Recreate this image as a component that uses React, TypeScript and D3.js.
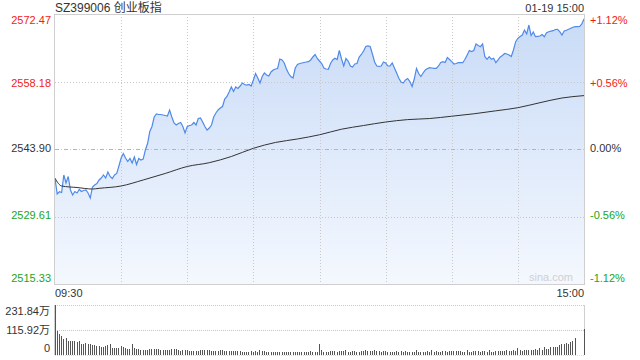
import React from "react";
import * as d3 from "d3";

const title = "SZ399006 创业板指";
const dateLabel = "01-19 15:00";
const preClose = 2543.9;
const priceTicks = [2572.47, 2558.18, 2543.9, 2529.61, 2515.33];
const pctTicks = ["+1.12%", "+0.56%", "0.00%", "-0.56%", "-1.12%"];
const volTicks = [231.84, 115.92, 0];
const volTickLabels = ["231.84万", "115.92万", "0"];
const timeLabels = ["09:30", "15:00"];

// minute-by-minute price (241 points, 09:30 - 15:00)
const prices = [
  2537.70, 2534.38, 2534.86, 2534.69, 2538.40, 2536.70, 2538.08, 2535.22, 2534.16, 2534.91,
  2534.59, 2535.33, 2534.91, 2535.12, 2535.22, 2534.59, 2533.53, 2535.86, 2536.28, 2536.60,
  2537.34, 2537.76, 2538.40, 2537.76, 2539.03, 2538.08, 2537.66, 2538.40, 2538.72, 2540.30,
  2542.00, 2542.95, 2542.00, 2541.25, 2541.89, 2540.94, 2542.21, 2540.62, 2541.89, 2541.57,
  2541.78, 2543.69, 2545.06, 2547.60, 2548.66, 2550.67, 2551.31, 2551.20, 2551.20, 2551.10,
  2550.99, 2550.88, 2552.15, 2550.67, 2549.40, 2548.98, 2549.30, 2549.51, 2548.66, 2547.29,
  2548.66, 2548.87, 2548.98, 2549.51, 2548.98, 2550.35, 2550.46, 2549.61, 2548.66, 2547.92,
  2548.34, 2548.98, 2550.67, 2551.52, 2552.15, 2552.58, 2552.89, 2554.48, 2555.01, 2555.96,
  2557.02, 2556.07, 2557.02, 2556.70, 2557.23, 2557.87, 2557.55, 2557.44, 2557.55, 2557.23,
  2558.50, 2559.88, 2558.93, 2557.87, 2559.24, 2559.98, 2559.56, 2559.35, 2560.20, 2560.62,
  2560.83, 2560.94, 2562.95, 2562.74, 2562.10, 2560.83, 2559.88, 2559.24, 2558.93, 2561.04,
  2561.78, 2561.99, 2562.10, 2562.21, 2562.31, 2562.38, 2562.74, 2563.37, 2563.90, 2563.05,
  2562.52, 2561.99, 2561.04, 2560.83, 2560.77, 2561.99, 2562.74, 2563.09, 2562.84, 2564.75,
  2562.95, 2561.47, 2563.05, 2562.52, 2561.47, 2561.25, 2561.89, 2561.99, 2563.37, 2563.90,
  2564.64, 2565.59, 2565.70, 2565.59, 2564.00, 2562.31, 2561.47, 2561.40, 2561.47, 2562.31,
  2562.10, 2561.47, 2561.47, 2562.10, 2561.04, 2559.98, 2558.86, 2558.08, 2557.87, 2558.50,
  2558.82, 2558.18, 2557.13, 2558.71, 2560.94, 2559.88, 2559.24, 2559.98, 2560.62, 2560.94,
  2561.11, 2561.04, 2560.98, 2560.98, 2561.47, 2562.21, 2562.38, 2562.21, 2563.26, 2562.84,
  2562.38, 2561.89, 2561.99, 2562.16, 2562.16, 2562.16, 2562.88, 2563.79, 2564.75, 2564.53,
  2564.75, 2566.12, 2565.80, 2565.55, 2566.12, 2563.48, 2562.88, 2563.43, 2562.88, 2563.09,
  2562.16, 2562.74, 2563.37, 2563.69, 2564.11, 2564.00, 2563.79, 2563.48, 2564.85, 2566.61,
  2567.33, 2567.71, 2568.03, 2569.08, 2568.24, 2570.14, 2567.92, 2568.66, 2567.67, 2567.75,
  2567.81, 2568.13, 2567.67, 2568.51, 2568.72, 2568.83, 2568.94, 2569.19, 2569.23, 2568.72,
  2568.03, 2568.87, 2569.04, 2569.23, 2569.44, 2569.66, 2569.78, 2569.78, 2569.82, 2570.35,
  2571.41,
];

// average price line, sampled at these minute indices
const avgMinutes = [0, 3, 10, 17, 20, 30, 40, 50, 60, 70, 80, 90, 100, 110, 120, 130, 140, 150, 160, 170, 180, 190, 200, 210, 220, 230, 240];
const avgPrices = [
  2537.70, 2536.07, 2535.75, 2535.43, 2535.58, 2536.07, 2537.34, 2538.72, 2540.20, 2541.00,
  2542.31, 2544.05, 2545.28, 2546.02, 2546.91, 2548.09, 2548.87, 2549.61, 2550.12, 2550.35,
  2550.84, 2551.35, 2551.98, 2552.64, 2553.70, 2554.69, 2555.20,
];

// volume per minute, 万
const volumes = [
  231.84, 109, 97, 86, 72, 78, 67, 64, 67, 63,
  58, 63, 50, 50, 55, 52, 53, 47, 45, 41,
  44, 39, 39, 41, 45, 49, 34, 34, 34, 34,
  44, 39, 34, 30, 30, 50, 31, 30, 30, 25,
  25, 25, 25, 30, 27, 30, 30, 30, 25, 25,
  25, 22, 25, 27, 30, 30, 25, 20, 23, 25,
  25, 20, 20, 20, 20, 20, 25, 25, 25, 25,
  25, 20, 20, 20, 20, 25, 25, 20, 20, 20,
  20, 20, 20, 20, 20, 16, 16, 16, 16, 20,
  16, 20, 16, 25, 20, 20, 16, 16, 16, 12,
  12, 16, 16, 16, 16, 16, 16, 16, 16, 12,
  12, 16, 12, 12, 16, 16, 20, 16, 16, 16,
  50, 25, 16, 16, 16, 20, 20, 20, 16, 20,
  20, 20, 25, 16, 16, 20, 20, 16, 16, 20,
  20, 25, 20, 20, 20, 25, 20, 20, 16, 20,
  20, 16, 16, 16, 16, 20, 16, 20, 16, 20,
  16, 16, 16, 16, 25, 16, 16, 16, 16, 20,
  16, 25, 16, 20, 16, 16, 20, 20, 16, 20,
  20, 20, 20, 20, 20, 16, 16, 25, 16, 16,
  20, 20, 20, 16, 20, 20, 16, 25, 16, 16,
  20, 20, 20, 20, 20, 25, 20, 20, 25, 20,
  34, 25, 20, 25, 25, 25, 25, 25, 27, 25,
  34, 25, 39, 28, 28, 39, 39, 39, 39, 45,
  53, 49, 56, 53, 58, 67, 77, 2, 2, 2,
  122,
];

const W = 640;
const H = 360;
const left = 55;
const right = 584;
const top = 14;
const bottom = 284;
const vTop = 305;
const vBottom = 355;

const RED = "#f21a1a";
const GREEN = "#1aa51a";
const GRAY = "#333";
const FONT = "'Liberation Sans', Arial, 'Noto Sans CJK SC', sans-serif";

export default function App() {
  const x = d3.scaleLinear().domain([0, 240]).range([left, right]);
  const y = d3.scaleLinear().domain([priceTicks[4], priceTicks[0]]).range([bottom, top]);
  const yv = d3.scaleLinear().domain([0, volTicks[0]]).range([vBottom, vTop]);

  const line = d3.line<number>().x((_, i) => x(i)).y((d) => y(d));
  const area = d3
    .area<number>()
    .x((_, i) => x(i))
    .y0(bottom)
    .y1((d) => y(d));
  const avgLine = d3
    .line<number>()
    .x((_, i) => x(avgMinutes[i]))
    .y((d) => y(d))
    .curve(d3.curveMonotoneX);

  const vGrid = d3.range(1, 8).map((k) => x(k * 30));
  const tickColor = (i: number) => (i < 2 ? RED : i > 2 ? GREEN : GRAY);
  const labelBaseline = [24, 87, 152, 219, 282];

  return (
    <svg width={W} height={H} style={{ position: "absolute", left: 0, top: 0, background: "#fff" }} fontFamily={FONT}>
      <defs>
        <linearGradient id="fillGrad" x1="0" y1="0" x2="0" y2="1">
          <stop offset="0%" stopColor="#c9dbf7" />
          <stop offset="100%" stopColor="#f4f8fe" />
        </linearGradient>
      </defs>

      {/* title */}
      <text x={left} y={11.5} fontSize={12} fill={GRAY}>{title}</text>
      <text x={right} y={11.5} fontSize={11} fill={GRAY} textAnchor="end">{dateLabel}</text>

      {/* area + lines */}
      <path d={area(prices) || ""} fill="url(#fillGrad)" />

      {/* grid */}
      {vGrid.map((gx, i) => (
        <line key={"vg" + i} x1={Math.round(gx) + 0.5} x2={Math.round(gx) + 0.5} y1={top} y2={bottom} stroke="#c8c8c8" strokeDasharray="1,2" />
      ))}
      {[1, 3].map((k) => (
        <line key={"hg" + k} x1={left} x2={right} y1={Math.round(y(priceTicks[k])) + 0.5} y2={Math.round(y(priceTicks[k])) + 0.5} stroke="#c8c8c8" strokeDasharray="1,2" />
      ))}
      <line x1={left} x2={right} y1={Math.round(y(preClose)) + 0.5} y2={Math.round(y(preClose)) + 0.5} stroke="#c8c8c8" strokeDasharray="1,2" />
      <line x1={left} x2={right} y1={Math.round(y(preClose)) + 0.5} y2={Math.round(y(preClose)) + 0.5} stroke="#eba47c" strokeDasharray="4,5" />

      <path d={line(prices) || ""} fill="none" stroke="#4f8ae9" strokeWidth={1.2} />
      <path d={avgLine(avgPrices) || ""} fill="none" stroke="#333" strokeWidth={1} />

      {/* frame */}
      <rect x={left - 0.5} y={top + 0.5} width={right - left + 1} height={bottom - top} fill="none" stroke="#cfcfcf" />

      {/* price labels */}
      {priceTicks.map((p, i) => (
        <text key={"pl" + i} x={51} y={labelBaseline[i]} fontSize={11} fill={tickColor(i)} textAnchor="end">
          {p.toFixed(2)}
        </text>
      ))}
      {pctTicks.map((p, i) => (
        <text key={"pr" + i} x={590} y={labelBaseline[i]} fontSize={11} fill={tickColor(i)}>
          {p}
        </text>
      ))}

      <text x={573} y={281} fontSize={11} fill="#d0d0d0" textAnchor="end">sina.com</text>

      {/* time labels */}
      <text x={left} y={297} fontSize={11} fill={GRAY}>{timeLabels[0]}</text>
      <text x={right} y={297} fontSize={11} fill={GRAY} textAnchor="end">{timeLabels[1]}</text>

      {/* volume panel */}
      <line x1={left} x2={right} y1={vTop + 0.5} y2={vTop + 0.5} stroke="#c8c8c8" strokeDasharray="1,1" />
      <line x1={left} x2={right} y1={Math.round(yv(volTicks[1])) + 0.5} y2={Math.round(yv(volTicks[1])) + 0.5} stroke="#c8c8c8" strokeDasharray="1,1" />
      <line x1={left} x2={right} y1={vBottom + 0.5} y2={vBottom + 0.5} stroke="#dcdcdc" strokeDasharray="1,1" />
      <line x1={left - 0.5} x2={left - 0.5} y1={vTop} y2={vBottom} stroke="#cfcfcf" />
      <line x1={right + 0.5} x2={right + 0.5} y1={vTop} y2={vBottom} stroke="#cfcfcf" />
      {volumes.map((v, i) => {
        const top = Math.round(yv(v));
        return (
          <rect key={"vb" + i} x={Math.floor(x(i))} y={top} width={1} height={vBottom - top} fill="#555" shapeRendering="crispEdges" />
        );
      })}
      {volTickLabels.map((t, i) => (
        <text key={"vl" + i} x={50} y={[315, 333.5, 352][i]} fontSize={11} fill={GRAY} textAnchor="end">
          {t}
        </text>
      ))}
    </svg>
  );
}
